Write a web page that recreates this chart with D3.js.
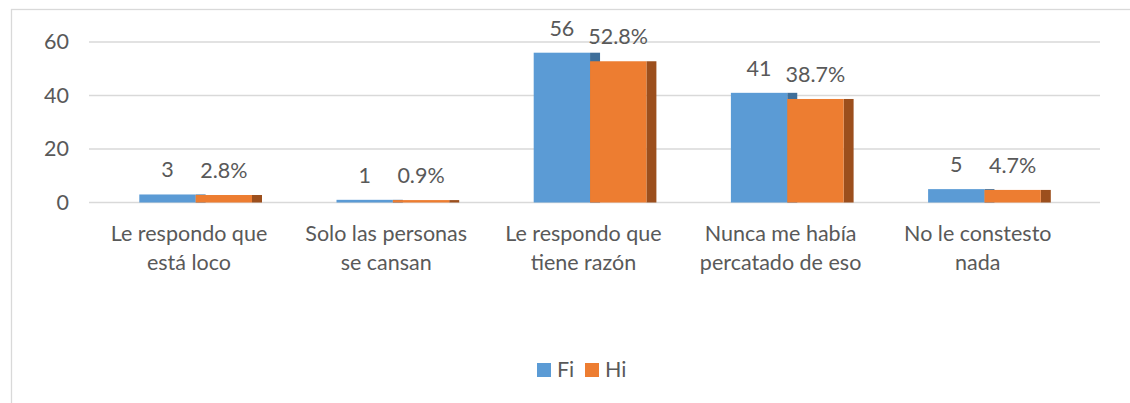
<!DOCTYPE html>
<html>
<head>
<meta charset="utf-8">
<script src="https://cdn.jsdelivr.net/npm/d3@7"></script>
<style>
  body { margin: 0; background: #fff; }
  svg text { font-family: Lato, "Open Sans", sans-serif; fill: #595959; }
</style>
</head>
<body>
<div id="chart"></div>
<script>
const categories = [
    "Le respondo que\nestá loco",
    "Solo las personas\nse cansan",
    "Le respondo que\ntiene razón",
    "Nunca me había\npercatado de eso",
    "No le constesto\nnada"
];
const series = ["Fi", "Hi"];
const fiValues = [3, 1, 56, 41, 5];
const hiValues = [2.8, 0.9, 52.8, 38.7, 4.7];
const yTicks = [0, 20, 40, 60];

const width = 1130;
const height = 403;
const fontSize = "21.5px";
const colors = { Fi: "#5b9bd5", Hi: "#ed7d31" };
const sideColors = { Fi: "#3f6f9a", Hi: "#9c4f1d" };
const depth = 10;

const svg = d3.select("#chart")
    .append("svg")
    .attr("width", width)
    .attr("height", height);

// chart frame
svg.append("rect")
    .attr("x", 11.5)
    .attr("y", 9.5)
    .attr("width", 1130)
    .attr("height", 420)
    .attr("fill", "none")
    .attr("stroke", "#d9d9d9")
    .attr("stroke-width", 1.3);

const x = d3.scaleBand()
    .domain(categories)
    .range([90.4, 90.4 + 5 * 197.2]);

const inner = d3.scaleBand()
    .domain(series)
    .range([-49.7, 63]);

const y = d3.scaleLinear()
    .domain([0, 60])
    .range([202.5, 42]);

// gridlines
svg.append("g")
    .selectAll("line")
    .data(yTicks)
    .enter()
    .append("line")
    .attr("x1", 89)
    .attr("x2", 1100)
    .attr("y1", d => y(d))
    .attr("y2", d => y(d))
    .attr("stroke", "#d9d9d9")
    .attr("stroke-width", 1.5);

// y axis labels
const yAxis = svg.append("g")
    .attr("transform", "translate(69,0)")
    .call(d3.axisLeft(y).tickValues(yTicks).tickSize(0).tickPadding(0));
yAxis.select(".domain").remove();
yAxis.selectAll("text")
    .attr("font-size", fontSize)
    .style("font-family", "Lato, sans-serif")
    .attr("fill", "#595959");

const rows = categories.map((c, i) => ({ cat: c, Fi: fiValues[i], Hi: hiValues[i] }));

const groups = svg.append("g")
    .selectAll("g")
    .data(rows)
    .enter()
    .append("g")
    .attr("transform", d => `translate(${x(d.cat) + x.bandwidth() / 2},0)`);

series.forEach(s => {
    groups.append("rect")
        .attr("x", inner(s) + inner.bandwidth())
        .attr("y", d => y(d[s]))
        .attr("width", depth)
        .attr("height", d => y(0) - y(d[s]))
        .attr("fill", sideColors[s]);
    groups.append("rect")
        .attr("x", inner(s))
        .attr("y", d => y(d[s]))
        .attr("width", inner.bandwidth())
        .attr("height", d => y(0) - y(d[s]))
        .attr("fill", colors[s]);
});

series.forEach(s => {
    groups.append("text")
        .attr("x", inner(s) + inner.bandwidth() / 2)
        .attr("y", d => y(d[s]) - 17)
        .attr("text-anchor", "middle")
        .attr("font-size", fontSize)
        .text(d => s === "Hi" ? d[s].toFixed(1) + "%" : d[s]);
});

// category labels
const catLabels = svg.append("g")
    .selectAll("text")
    .data(categories)
    .enter()
    .append("text")
    .attr("x", d => x(d) + x.bandwidth() / 2)
    .attr("y", 241)
    .attr("text-anchor", "middle")
    .attr("font-size", fontSize);

catLabels.selectAll("tspan")
    .data(d => d.split("\n"))
    .enter()
    .append("tspan")
    .attr("x", function () { return d3.select(this.parentNode).attr("x"); })
    .attr("dy", (d, i) => i === 0 ? 0 : 29)
    .text(d => d);

// legend
const legendX = [537, 585];
const legend = svg.append("g")
    .selectAll("g")
    .data(series)
    .enter()
    .append("g")
    .attr("transform", (d, i) => `translate(${legendX[i]},363)`);
legend.append("rect")
    .attr("width", 14)
    .attr("height", 14)
    .attr("fill", d => colors[d]);
legend.append("text")
    .attr("x", 20)
    .attr("y", 14)
    .attr("font-size", fontSize)
    .text(d => d);
</script>
</body>
</html>
